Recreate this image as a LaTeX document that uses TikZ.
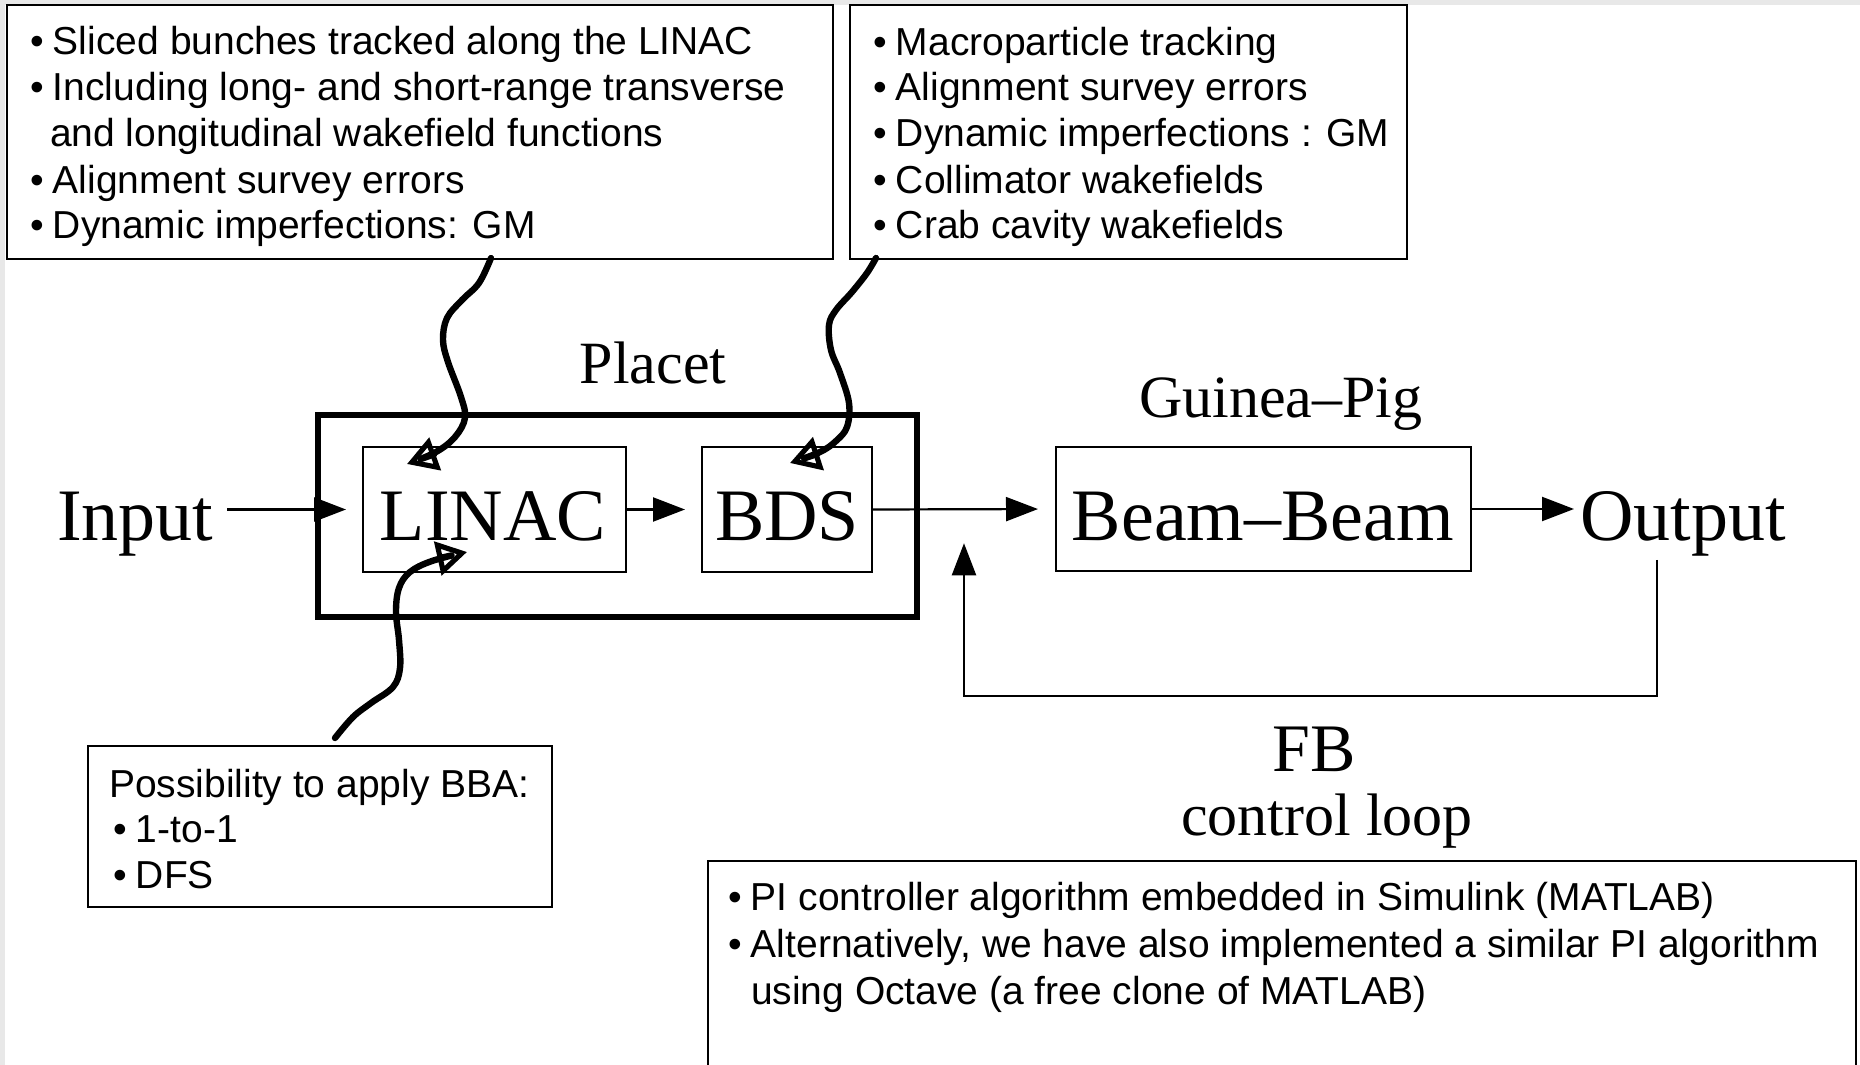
\documentclass[tikz,border=0pt]{standalone}
\usepackage{fontspec}
\setmainfont{Liberation Serif}
\setsansfont{Liberation Sans}
\usetikzlibrary{arrows.meta,fit,calc}
\newcommand\bul{\llap{•\hspace{4.5pt}}}
\begin{document}
\begin{tikzpicture}[x=0.5pt,y=-0.5pt,
  every node/.style={inner sep=0pt, outer sep=0pt},
  note/.style={font=\sffamily\fontsize{19.5}{23}\selectfont, anchor=base west},
  big/.style={font=\fontsize{37}{40}\selectfont},
  mid/.style={font=\fontsize{30}{34}\selectfont, anchor=base},
  frame/.style={draw, line width=1.3pt},
  blk/.style={draw, line width=1.4pt},
  arr/.style={line width=1.1pt, -{Triangle[length=16pt,width=12pt]}},
  squig/.style={line width=3.2pt, line cap=round, line join=round,
    -{Triangle[open,length=15pt,width=17pt,line width=0pt 0.8]}},
]
\useasboundingbox (0,0) rectangle (1860,1065);
\fill[gray!18] (0,0) rectangle (1860,1065);
\fill[white] (5,5) rectangle (1860,1065);

% annotation boxes
\node[frame, fit={(7,5)(833,259)}] (box1) {};
\node[frame, fit={(850,5)(1407,259)}] (box2) {};
\node[frame, fit={(88,746)(552,907)}] (bba) {};
\node[frame, fit={(708,861)(1856,1090)}] (pibox) {};

\node[note] (t11) at (53,55)  {\bul Sliced bunches tracked along the LINAC};
\node[note] (t12) at (53,101) {\bul Including long- and short-range transverse};
\node[note] (t13) at (50,147) {and longitudinal wakefield functions};
\node[note] (t14) at (53,193) {\bul Alignment survey errors};
\node[note] (t15) at (53,239) {\bul Dynamic imperfections: GM};

\node[note] (t21) at (896,56)  {\bul Macroparticle tracking};
\node[note] (t22) at (896,101) {\bul Alignment survey errors};
\node[note] (t23) at (896,147) {\bul Dynamic imperfections : GM};
\node[note] (t24) at (896,193) {\bul Collimator wakefields};
\node[note] (t25) at (896,239) {\bul Crab cavity wakefields};

\node[note] (t31) at (109,797) {Possibility to apply BBA:};
\node[note] (t32) at (136,842) {\bul 1-to-1};
\node[note] (t33) at (136,888) {\bul DFS};

\node[note] (t41) at (751,910)  {\bul PI controller algorithm embedded in Simulink (MATLAB)};
\node[note] (t42) at (751,957)  {\bul Alternatively, we have also implemented a similar PI algorithm};
\node[note] (t43) at (751,1004) {using Octave (a free clone of MATLAB)};

% main blocks
\node[draw, line width=2.8pt, fit={(318,415)(917,617)}] (placet) {};
\node[blk, fit={(363,447)(626,572)}] (linac) {};
\node[blk, fit={(702,447)(872,572)}] (bds) {};
\node[blk, fit={(1056,447)(1471,571)}] (beam) {};

\node[big, anchor=base] (linactxt) at (493,540) {LINAC};
\node[big, anchor=base] (bdstxt) at (787,540) {BDS};
\node[big, anchor=base] (beamtxt) at (1263,540) {Beam–Beam};
\node[big, anchor=base west] (input) at (57,540) {Input};
\node[big, anchor=base west] (output) at (1580,540) {Output};

\node[mid] (placetlbl) at (653,383) {Placet};
\node[mid] (gplbl) at (1281,417) {Guinea–Pig};
\node[font=\fontsize{34}{36}\selectfont, anchor=base] (fblbl) at (1314,771) {FB};
\node[mid] (cllbl) at (1327,835) {control loop};

% arrows
\draw[arr, shorten <=7pt, shorten >=8.5pt] (input.east |- linac.west) -- (linac.west);
\draw[arr, shorten >=8.5pt] (linac.east) -- (bds.west);
\draw[arr, shorten >=9pt] (bds.east) -- (beam.west);
\draw[arr, shorten >=3pt] (beam.east) -- (output.west |- beam.east);
\coordinate (fbtop) at ([xshift=-13pt,yshift=-2pt]output.south);
\coordinate (fbtip) at ($(bds.east)!0.5!(beam.west)+(0,34)$);
\draw[arr] (fbtop) -- ++(0,136) -| (fbtip);

% hand-drawn connectors
\coordinate (s1a) at (491,258);
\coordinate (s1b) at (407,464);
\coordinate (s2a) at (876,258);
\coordinate (s2b) at (790,463);
\coordinate (s3a) at (335,738);
\coordinate (s3b) at (467,552);
\draw[squig] plot[smooth, tension=0.6] coordinates {(s1a) (479,283) (462,300) (447,318) (443,340) (448,362) (461,397) (465,418) (455,437) (436,452) (s1b)};
\draw[squig] plot[smooth, tension=0.6] coordinates {(s2a) (867,273) (852,292) (836,310) (829,325) (831,350) (840,373) (849,403) (847,427) (836,441) (820,452) (s2b)};
\draw[squig] plot[smooth, tension=0.6] coordinates {(s3a) (353,717) (371,703) (393,687) (400,668) (399,640) (396,612) (399,588) (410,572) (432,561) (s3b)};
\end{tikzpicture}
\end{document}
